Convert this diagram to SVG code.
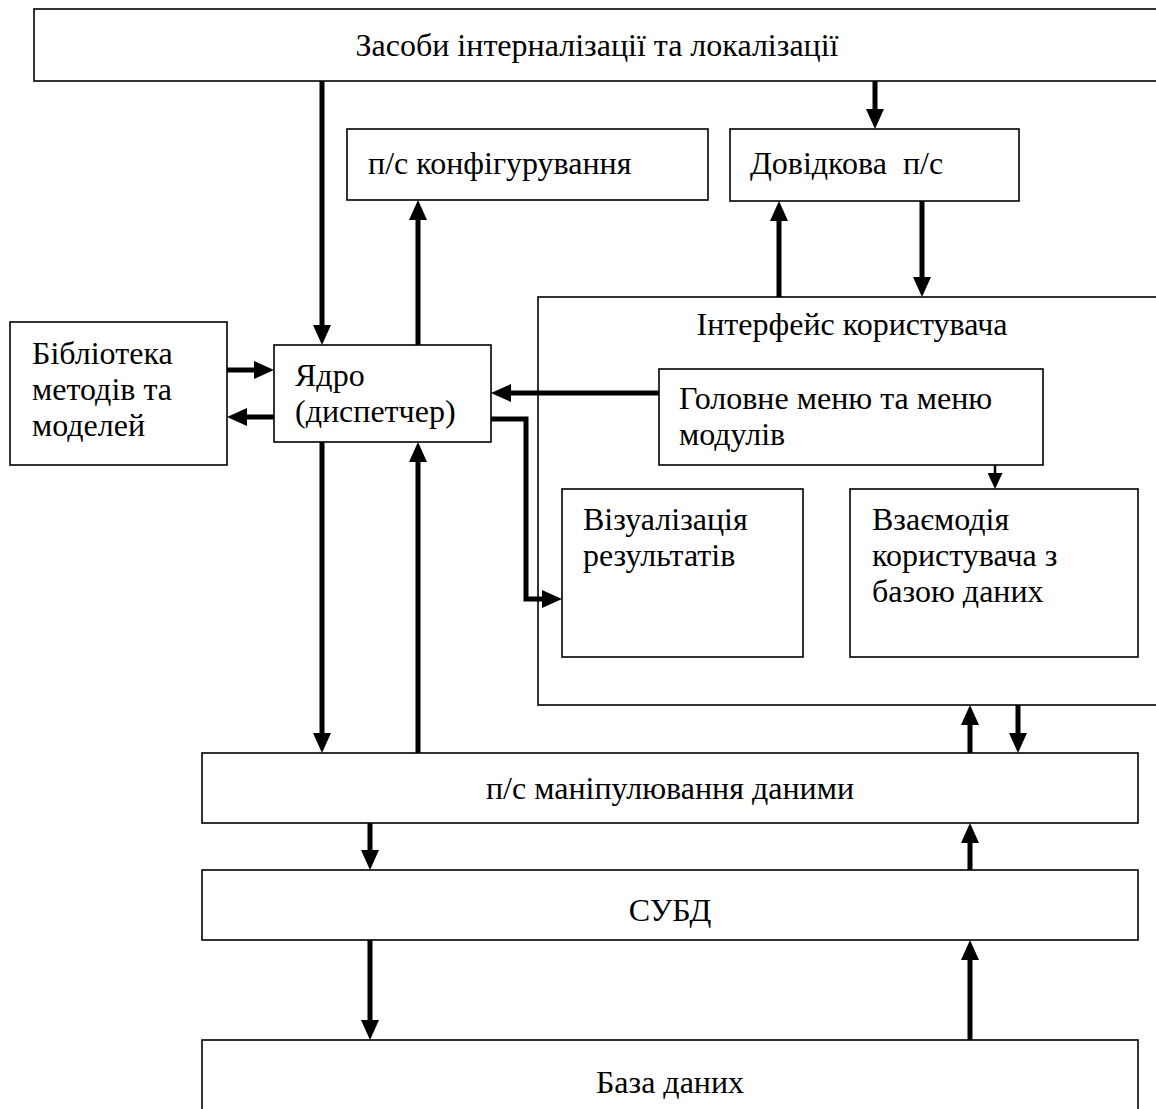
<svg xmlns="http://www.w3.org/2000/svg" width="1156" height="1109" viewBox="0 0 1156 1109">
<style>
.box{fill:#fff;stroke:#000;stroke-width:1.6}
.t{font-family:"Liberation Serif","Times New Roman",serif;font-size:32px;fill:#000}
.c{text-anchor:middle}
.con{fill:none;stroke:#000;stroke-width:5}
.thin{fill:none;stroke:#000;stroke-width:2.5}
</style>
<defs>
<marker id="ah" viewBox="0 0 20 18" refX="1" refY="9" markerWidth="20" markerHeight="18" markerUnits="userSpaceOnUse" orient="auto">
<path d="M0,0 L20,9 L0,18 z" fill="#000"/>
</marker>
<marker id="ahs" viewBox="0 0 16 15" refX="1" refY="7.5" markerWidth="16" markerHeight="15" markerUnits="userSpaceOnUse" orient="auto">
<path d="M0,0 L16,7.5 L0,15 z" fill="#000"/>
</marker>
</defs>
<rect width="1156" height="1109" fill="#fff"/>
<g id="n-top"><rect class="box" x="34" y="9" width="1140" height="72"/><text class="t c" x="597" y="56">Засоби інтерналізації та локалізації</text></g>
<g id="n-config"><rect class="box" x="347" y="129" width="361" height="71"/><text class="t" x="368" y="174">п/с конфігурування</text></g>
<g id="n-help"><rect class="box" x="730" y="129" width="289" height="72"/><text class="t" x="750" y="174" xml:space="preserve">Довідкова  п/с</text></g>
<g id="n-ui"><rect class="box" x="538" y="297" width="640" height="408"/><text class="t c" x="852" y="335">Інтерфейс користувача</text></g>
<g id="n-lib"><rect class="box" x="10" y="322" width="217" height="143"/><text class="t" x="32" y="364">Бібліотека</text><text class="t" x="32" y="400">методів та</text><text class="t" x="32" y="436">моделей</text></g>
<g id="n-core"><rect class="box" x="274" y="345" width="217" height="97"/><text class="t" x="295" y="386">Ядро</text><text class="t" x="295" y="422">(диспетчер)</text></g>
<g id="n-menu"><rect class="box" x="659" y="369" width="384" height="96"/><text class="t" x="679" y="409">Головне меню та меню</text><text class="t" x="679" y="445">модулів</text></g>
<g id="n-vis"><rect class="box" x="562" y="489" width="241" height="168"/><text class="t" x="583" y="530">Візуалізація</text><text class="t" x="583" y="566">результатів</text></g>
<g id="n-inter"><rect class="box" x="850" y="489" width="288" height="168"/><text class="t" x="872" y="530">Взаємодія</text><text class="t" x="872" y="566">користувача з</text><text class="t" x="872" y="602">базою даних</text></g>
<g id="n-data"><rect class="box" x="202" y="753" width="936" height="70"/><text class="t c" x="670" y="799">п/с маніпулювання даними</text></g>
<g id="n-dbms"><rect class="box" x="202" y="870" width="936" height="70"/><text class="t c" x="670" y="921">СУБД</text></g>
<g id="n-db"><rect class="box" x="202" y="1040" width="936" height="90"/><text class="t c" x="670" y="1093">База даних</text></g>
<g id="connectors">
<path class="con" d="M322,81 V326" marker-end="url(#ah)"/>
<path class="con" d="M875,81 V110" marker-end="url(#ah)"/>
<path class="con" d="M418,345 V219" marker-end="url(#ah)"/>
<path class="con" d="M779,297 V220" marker-end="url(#ah)"/>
<path class="con" d="M922,201 V278" marker-end="url(#ah)"/>
<path class="con" d="M227,370 H255" marker-end="url(#ah)"/>
<path class="con" d="M274,417 H246" marker-end="url(#ah)"/>
<path class="con" d="M659,393 H510" marker-end="url(#ah)"/>
<path class="con" d="M491,419 H526 V599 H543" marker-end="url(#ah)"/>
<path class="thin" d="M995,465 V474" marker-end="url(#ahs)"/>
<path class="con" d="M322,442 V734" marker-end="url(#ah)"/>
<path class="con" d="M418,753 V461" marker-end="url(#ah)"/>
<path class="con" d="M970,753 V724" marker-end="url(#ah)"/>
<path class="con" d="M1018,705 V734" marker-end="url(#ah)"/>
<path class="con" d="M370,823 V851" marker-end="url(#ah)"/>
<path class="con" d="M970,870 V842" marker-end="url(#ah)"/>
<path class="con" d="M370,940 V1021" marker-end="url(#ah)"/>
<path class="con" d="M970,1040 V959" marker-end="url(#ah)"/>
</g>
</svg>
